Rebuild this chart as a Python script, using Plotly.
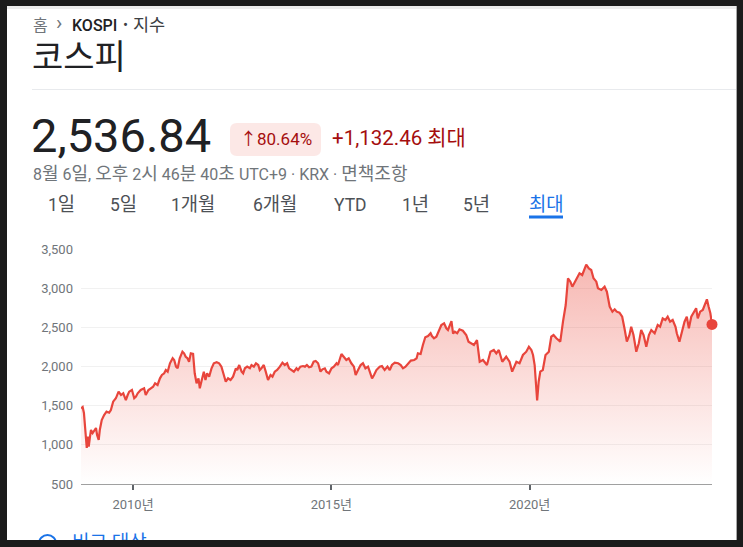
import re
import plotly.graph_objects as go

W, H = 743, 547

# ---------------- data ----------------
dates = [
    "2008-09-09", "2008-09-24", "2008-10-06", "2008-10-18", "2008-10-25", "2008-11-01", "2008-11-10",
    "2008-11-19", "2008-12-01", "2008-12-10", "2008-12-25", "2009-01-10", "2009-01-25", "2009-02-04",
    "2009-02-19", "2009-03-01", "2009-03-19", "2009-04-10", "2009-05-02", "2009-05-26", "2009-06-11",
    "2009-07-02", "2009-07-27", "2009-08-21", "2009-09-12", "2009-10-03", "2009-10-27", "2009-11-13",
    "2009-11-27", "2009-12-22", "2010-01-12", "2010-01-28", "2010-02-13", "2010-03-13", "2010-04-13",
    "2010-04-28", "2010-05-23", "2010-06-14", "2010-07-05", "2010-07-23", "2010-08-15", "2010-09-06",
    "2010-09-24", "2010-10-15", "2010-10-30", "2010-11-16", "2010-12-07", "2011-01-01", "2011-01-15",
    "2011-02-01", "2011-02-16", "2011-03-07", "2011-04-01", "2011-04-16", "2011-05-01", "2011-05-17",
    "2011-06-01", "2011-06-17", "2011-07-08", "2011-07-23", "2011-08-09", "2011-08-27", "2011-09-08",
    "2011-09-26", "2011-10-15", "2011-10-30", "2011-11-14", "2011-12-03", "2011-12-25", "2012-01-15",
    "2012-02-10", "2012-03-04", "2012-03-25", "2012-04-16", "2012-05-04", "2012-05-25", "2012-06-17",
    "2012-07-10", "2012-08-05", "2012-08-17", "2012-09-05", "2012-09-27", "2012-10-11", "2012-10-27",
    "2012-11-17", "2012-12-12", "2012-12-27", "2013-01-18", "2013-02-06", "2013-02-27", "2013-03-13",
    "2013-03-28", "2013-04-19", "2013-05-07", "2013-05-28", "2013-06-20", "2013-07-08", "2013-07-29",
    "2013-08-20", "2013-09-14", "2013-10-08", "2013-10-29", "2013-11-20", "2013-12-08", "2013-12-30",
    "2014-01-21", "2014-02-14", "2014-02-28", "2014-03-22", "2014-04-15", "2014-05-03", "2014-05-21",
    "2014-06-10", "2014-07-01", "2014-07-22", "2014-08-10", "2014-09-01", "2014-09-23", "2014-10-11",
    "2014-11-02", "2014-11-17", "2014-12-11", "2015-01-03", "2015-01-24", "2015-02-18", "2015-03-03",
    "2015-04-04", "2015-04-28", "2015-05-19", "2015-06-10", "2015-07-04", "2015-07-28", "2015-08-13",
    "2015-09-04", "2015-09-28", "2015-10-19", "2015-11-11", "2015-12-05", "2015-12-20", "2016-01-11",
    "2016-01-29", "2016-02-20", "2016-03-21", "2016-04-11", "2016-05-06", "2016-06-01", "2016-06-22",
    "2016-07-12", "2016-08-07", "2016-09-07", "2016-10-01", "2016-10-22", "2016-11-14", "2016-12-07",
    "2017-01-02", "2017-02-02", "2017-02-24", "2017-03-08", "2017-04-02", "2017-04-23", "2017-05-15",
    "2017-06-09", "2017-07-03", "2017-07-15", "2017-08-03", "2017-08-25", "2017-09-15", "2017-10-10",
    "2017-11-04", "2017-11-25", "2017-12-10", "2017-12-26", "2018-01-11", "2018-01-26", "2018-02-11",
    "2018-03-05", "2018-03-26", "2018-04-26", "2018-05-27", "2018-06-17", "2018-07-12", "2018-08-06",
    "2018-09-03", "2018-09-28", "2018-10-28", "2018-12-04", "2019-01-05", "2019-02-05", "2019-02-28",
    "2019-03-23", "2019-04-24", "2019-05-30", "2019-06-30", "2019-07-24", "2019-09-01", "2019-09-30",
    "2019-10-31", "2019-12-01", "2019-12-25", "2020-01-17", "2020-02-01", "2020-02-16", "2020-03-10",
    "2020-03-24", "2020-04-08", "2020-05-01", "2020-05-26", "2020-06-26", "2020-07-18", "2020-08-08",
    "2020-09-03", "2020-09-27", "2020-10-09", "2020-11-03", "2020-11-28", "2020-12-19", "2021-01-10",
    "2021-01-28", "2021-02-19", "2021-03-10", "2021-04-04", "2021-04-29", "2021-05-20", "2021-06-05",
    "2021-06-29", "2021-07-21", "2021-08-11", "2021-09-06", "2021-09-21", "2021-10-22", "2021-11-21",
    "2021-12-12", "2022-01-07", "2022-02-01", "2022-02-22", "2022-03-13", "2022-04-07", "2022-05-02",
    "2022-05-23", "2022-06-14", "2022-07-08", "2022-07-24", "2022-08-14", "2022-09-09", "2022-10-02",
    "2022-10-24", "2022-11-15", "2022-12-10", "2023-01-03", "2023-01-25", "2023-02-25", "2023-03-25",
    "2023-04-16", "2023-05-10", "2023-06-04", "2023-06-25", "2023-07-17", "2023-08-10", "2023-09-05",
    "2023-09-17", "2023-10-11", "2023-11-06", "2023-11-27", "2023-12-18", "2024-01-06", "2024-01-28",
    "2024-02-18", "2024-03-13", "2024-03-28", "2024-04-19", "2024-05-13", "2024-06-01", "2024-06-20",
    "2024-07-05", "2024-07-22", "2024-08-06",
]
values = [
    1466, 1483, 1406, 1189, 1087, 960, 1104,
    976, 1104, 1189, 1151, 1189, 1215, 1126,
    1062, 1189, 1317, 1381, 1423, 1410, 1445,
    1551, 1594, 1679, 1636, 1658, 1572, 1636,
    1679, 1700, 1594, 1615, 1658, 1700, 1722,
    1636, 1700, 1722, 1742, 1786, 1764, 1849,
    1892, 1913, 1955, 1934, 2041, 2105, 2083,
    1998, 1977, 2105, 2189, 2168, 2125, 2105,
    2061, 2168, 2160, 1913, 1786, 1849, 1722,
    1828, 1934, 1828, 1913, 1870, 1977, 2041,
    2054, 2041, 1998, 1892, 1806, 1849, 1828,
    1870, 1977, 1955, 2019, 1934, 1913, 1977,
    1998, 1977, 2019, 1998, 2041, 2019, 1955,
    1977, 2019, 1934, 1828, 1892, 1870, 1934,
    1955, 1998, 2049, 2019, 2041, 1977, 1955,
    1934, 1977, 1955, 1998, 2006, 1998, 2019,
    1990, 1998, 2061, 2070, 2041, 1934, 1964,
    1977, 1934, 1913, 1977, 1998, 2041, 2019,
    2160, 2125, 2083, 2105, 2041, 1998, 1892,
    1955, 2019, 2041, 1977, 1998, 1934, 1849,
    1892, 1955, 1998, 2006, 1955, 1998, 1955,
    2019, 2049, 2041, 2019, 1977, 1998, 2041,
    2075, 2083, 2105, 2168, 2160, 2275, 2373,
    2389, 2424, 2389, 2360, 2380, 2444, 2530,
    2551, 2488, 2466, 2530, 2580, 2420, 2444,
    2424, 2475, 2457, 2402, 2317, 2296, 2275,
    2338, 2061, 2083, 2019, 2189, 2211, 2168,
    2211, 2061, 2125, 2061, 1934, 2061, 2041,
    2147, 2189, 2253, 2211, 2147, 2019, 1566,
    1806, 1934, 1955, 2147, 2189, 2380, 2402,
    2360, 2338, 2317, 2572, 2785, 3126, 3083,
    3019, 3083, 3126, 3190, 3168, 3232, 3300,
    3253, 3232, 3126, 3083, 2998, 2977, 3019,
    2955, 2764, 2700, 2730, 2700, 2687, 2636,
    2488, 2317, 2402, 2508, 2402, 2189, 2296,
    2466, 2402, 2253, 2402, 2466, 2424, 2530,
    2508, 2615, 2594, 2636, 2572, 2594, 2508,
    2424, 2317, 2466, 2572, 2636, 2488, 2636,
    2679, 2743, 2615, 2700, 2721, 2790, 2858,
    2770, 2680, 2536.84,
]

y_ticks = [500, 1000, 1500, 2000, 2500, 3000, 3500]
x_tick_dates = ["2010-01-01", "2015-01-01", "2020-01-01"]
x_tick_labels = ["2010년", "2015년", "2020년"]
tabs = ["1일", "5일", "1개월", "6개월", "YTD", "1년", "5년", "최대"]
active_tab = "최대"

title = "코스피"
price_text = "2,536.84"
pct_text = "↑80.64%"
change_text = "+1,132.46 최대"
date_text = "8월 6일, 오후 2시 46분 40초 UTC+9 · KRX · 면책조항"
compare_text = "비교 대상"

# ---------------- styling / layout helpers ----------------
FONT = "Roboto, 'Noto Sans CJK KR', sans-serif"
RED = "#e8453c"
DARK = "#202124"
GRAY = "#70757a"
BLUE = "#1a73e8"
DRED = "#a50e0e"


def px(x):
    return x / W


def py(y):
    return 1 - y / H


def kr(text, size):
    """Give Hangul runs their own (slightly larger) size, as in the reference."""
    return re.sub(r"([\uac00-\ud7a3]+)",
                  lambda m: f"<span style='font-size:{size}px'>{m.group(1)}</span>", text)


def rounded_rect(x0, y0, x1, y1, r):
    pts = [
        f"M{px(x0 + r)},{py(y0)}", f"L{px(x1 - r)},{py(y0)}",
        f"Q{px(x1)},{py(y0)} {px(x1)},{py(y0 + r)}", f"L{px(x1)},{py(y1 - r)}",
        f"Q{px(x1)},{py(y1)} {px(x1 - r)},{py(y1)}", f"L{px(x0 + r)},{py(y1)}",
        f"Q{px(x0)},{py(y1)} {px(x0)},{py(y1 - r)}", f"L{px(x0)},{py(y0 + r)}",
        f"Q{px(x0)},{py(y0)} {px(x0 + r)},{py(y0)}", "Z",
    ]
    return " ".join(pts)


fig = go.Figure()

fig.add_trace(go.Scatter(
    x=dates, y=values, mode="lines",
    line=dict(color=RED, width=2.2),
    fill="tozeroy",
    fillgradient=dict(
        type="vertical",
        colorscale=[[0, "rgba(234,67,53,0.0)"], [1, "rgba(234,67,53,0.40)"]],
        start=500, stop=3500,
    ),
    hoverinfo="skip", xaxis="x", yaxis="y",
))
fig.add_trace(go.Scatter(
    x=[dates[-1]], y=[values[-1]], mode="markers",
    marker=dict(color=RED, size=11), cliponaxis=False,
    hoverinfo="skip", xaxis="x", yaxis="y",
))

# partially hidden "비교 대상" at the bottom, clipped by a tiny subplot
fig.add_trace(go.Scatter(
    x=[72], y=[544], mode="text", text=[compare_text], textposition="middle right",
    textfont=dict(size=19, color=BLUE, family=FONT), cliponaxis=True,
    hoverinfo="skip", xaxis="x2", yaxis="y2",
))

annotations = []


def ann(text, x, y, size, color, xanchor="left", weight=None):
    f = dict(size=size, color=color, family=FONT)
    if weight:
        f["weight"] = weight
    annotations.append(dict(
        text=text, x=px(x), y=py(y), xref="paper", yref="paper",
        xanchor=xanchor, yanchor="middle", showarrow=False, font=f,
    ))


ann("홈", 31, 25, 16, GRAY)
ann("›", 54, 23, 21, GRAY)
ann("KOSPI", 70, 25, 16, DARK, weight=500)
ann("•", 121, 25, 15, "#3c4043")
ann(kr("지수", 17.5), 131, 25, 16, "#3c4043")
ann(title, 30, 57, 34, DARK)
ann(price_text, 29, 135, 47, DARK)
ann(pct_text, 275.5, 139, 17, DRED, xanchor="center")
ann(kr(change_text, 21), 330, 138, 20.5, DRED)
ann(kr(date_text, 18), 31, 174, 16, GRAY)

tab_centers = [61, 123, 193, 275, 350, 415, 476, 546]
for t, cx in zip(tabs, tab_centers):
    ann(kr(t, 18.8), cx, 205, 17.5, BLUE if t == active_tab else "#4d5156", xanchor="center")

shapes = [
    # white card on dark frame
    dict(type="rect", xref="paper", yref="paper", x0=px(7), x1=px(737), y0=py(540), y1=py(6),
         fillcolor="white", line=dict(width=0), layer="below"),
    dict(type="rect", xref="paper", yref="paper", x0=px(7), x1=px(737), y0=py(9), y1=py(6),
         fillcolor="#ececec", line=dict(width=0), layer="below"),
    dict(type="line", xref="paper", yref="paper", x0=px(736.5), x1=px(736.5), y0=py(540), y1=py(6),
         line=dict(color="#a8a8a8", width=1)),
    # separator
    dict(type="line", xref="paper", yref="paper", x0=px(32), x1=px(736), y0=py(89.5), y1=py(89.5),
         line=dict(color="#e8eaed", width=1)),
    # badge
    dict(type="path", xref="paper", yref="paper", path=rounded_rect(230, 123, 321, 156, 7),
         fillcolor="#fce8e6", line=dict(width=0), layer="below"),
    # active tab underline
    dict(type="rect", xref="paper", yref="paper", x0=px(529), x1=px(563), y0=py(218.5), y1=py(215.5),
         fillcolor=BLUE, line=dict(width=0)),
    # partly hidden icon at bottom
    dict(type="circle", xref="x2", yref="y2", x0=39, x1=56, y0=535, y1=552,
         line=dict(color=BLUE, width=2)),
]

fig.update_layout(
    template="none",
    width=W, height=H,
    margin=dict(l=0, r=0, t=0, b=0, pad=0, autoexpand=False),
    paper_bgcolor="#1b1b1b",
    plot_bgcolor="rgba(0,0,0,0)",
    showlegend=False,
    font=dict(family=FONT),
    annotations=annotations,
    shapes=shapes,
    xaxis=dict(
        domain=[px(81), px(712)], anchor="y", type="date",
        range=[dates[0], dates[-1]],
        tickvals=x_tick_dates, ticktext=x_tick_labels,
        ticks="outside", ticklen=5, tickwidth=1.5, tickcolor="#5f6368",
        showline=True, linecolor="#a0a0a0", linewidth=1,
        showgrid=False, zeroline=False, automargin=False,
        tickfont=dict(size=13, color=GRAY, family=FONT),
        ticklabelstandoff=3,
        fixedrange=True,
    ),
    yaxis=dict(
        domain=[py(484), py(249)], anchor="x",
        range=[500, 3500], tickvals=y_ticks, tickformat=",",
        showgrid=True, gridcolor="#f1f1f1", gridwidth=1,
        showline=False, zeroline=False, ticks="", automargin=False,
        ticklabelstandoff=7,
        tickfont=dict(size=13, color=GRAY, family=FONT),
        fixedrange=True,
    ),
    xaxis2=dict(domain=[px(8), px(736)], range=[8, 736], anchor="y2", visible=False,
                fixedrange=True, automargin=False),
    yaxis2=dict(domain=[py(540), py(520)], range=[540, 520], anchor="x2", visible=False,
                fixedrange=True, automargin=False),
)

fig.write_html("out.html")
